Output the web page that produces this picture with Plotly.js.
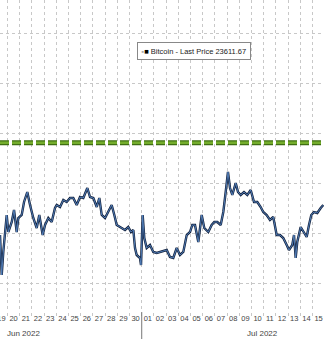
<!DOCTYPE html>
<html>
<head>
<meta charset="utf-8">
<script src="https://cdn.plot.ly/plotly-3.0.1.min.js"></script>
<style>html,body{margin:0;padding:0;background:#fff;}#chart{width:324px;height:339px;}</style>
</head>
<body>
<div id="chart"></div>
<script>
const times = [
"2022-06-19 09:12","2022-06-19 12:36","2022-06-19 15:42","2022-06-19 22:24",
"2022-06-20 01:36","2022-06-20 08:18","2022-06-20 12:48","2022-06-20 18:06","2022-06-20 21:12",
"2022-06-21 03:54","2022-06-21 08:30","2022-06-21 14:54","2022-06-21 20:18",
"2022-06-22 02:42","2022-06-22 09:24","2022-06-22 14:30","2022-06-22 21:12",
"2022-06-23 01:48","2022-06-23 08:18","2022-06-23 14:54","2022-06-23 21:24",
"2022-06-24 00:48","2022-06-24 07:18","2022-06-24 13:48","2022-06-24 20:24",
"2022-06-25 02:54","2022-06-25 09:24","2022-06-25 16:06","2022-06-25 22:36",
"2022-06-26 05:06","2022-06-26 13:00","2022-06-26 18:18",
"2022-06-27 00:48","2022-06-27 07:30","2022-06-27 12:36","2022-06-27 17:18","2022-06-27 23:48",
"2022-06-28 06:18","2022-06-28 12:54","2022-06-28 18:06","2022-06-28 22:48",
"2022-06-29 05:18","2022-06-29 15:06","2022-06-29 21:36",
"2022-06-30 02:54","2022-06-30 07:30","2022-06-30 10:48","2022-06-30 14:06","2022-06-30 20:36","2022-06-30 22:36",
"2022-07-01 01:54","2022-07-01 05:06","2022-07-01 09:48","2022-07-01 16:18","2022-07-01 22:48",
"2022-07-02 05:30","2022-07-02 12:00","2022-07-02 18:30",
"2022-07-03 01:12","2022-07-03 07:36","2022-07-03 14:06","2022-07-03 20:48",
"2022-07-04 03:18","2022-07-04 09:48","2022-07-04 16:30","2022-07-04 23:00",
"2022-07-05 03:30","2022-07-05 08:48","2022-07-05 15:18","2022-07-05 22:00",
"2022-07-06 03:06","2022-07-06 11:00","2022-07-06 17:36","2022-07-06 22:48",
"2022-07-07 04:42","2022-07-07 11:24","2022-07-07 16:30","2022-07-07 21:12",
"2022-07-08 01:42","2022-07-08 05:42","2022-07-08 10:12","2022-07-08 16:54","2022-07-08 21:24",
"2022-07-09 02:42","2022-07-09 09:12","2022-07-09 15:42","2022-07-09 22:24",
"2022-07-10 04:54","2022-07-10 11:24","2022-07-10 18:00","2022-07-10 23:06",
"2022-07-11 05:48","2022-07-11 12:18","2022-07-11 18:48",
"2022-07-12 01:30","2022-07-12 08:00","2022-07-12 14:30","2022-07-12 21:12",
"2022-07-13 01:42","2022-07-13 08:12","2022-07-13 11:36","2022-07-13 14:54","2022-07-13 18:00",
"2022-07-14 00:42","2022-07-14 07:12","2022-07-14 12:30","2022-07-14 17:06","2022-07-14 21:36",
"2022-07-15 02:54","2022-07-15 09:24","2022-07-15 16:06","2022-07-15 21:12"
];
const prices = [
19920,18320,19240,20720,
20040,20440,20920,20040,20600,
20720,21240,21640,21120,
20600,20200,20720,19920,
20320,20600,20440,21000,
21120,21040,21320,21240,
21400,21400,21120,21440,
21400,21800,21440,
21400,21040,21400,20720,20600,
20840,21120,20720,20320,
20240,20120,20240,
20040,20120,19400,19120,19000,18720,
20720,19800,19400,19520,19240,
19200,19240,19280,
19320,19040,19000,19400,
19120,19240,19920,20040,
20320,20320,19640,20720,
20200,20040,20320,20440,
20440,20320,20840,21640,
22440,21800,21520,22000,21640,
21520,21640,21520,21720,
21240,21240,21040,20840,
20720,20520,20640,
19920,19920,19800,19520,
19320,19520,19920,19000,19640,
20240,20040,19840,20320,20720,
20840,20800,21000,21120
];
const lastPrice = 23611.67;
const seriesName = "Bitcoin - Last Price";
const monthLabels = ["Jun 2022", "Jul 2022"];
const monthLabelPos = ["2022-06-21 08:24", "2022-07-10 21:12"];
const monthStart = "2022-07-01 00:00";
const xRange = ["2022-06-19 09:12", "2022-07-15 22:36"];
const yRange = [16840, 29320];

const traces = [
  {x: times, y: prices, type: "scatter", mode: "lines",
   line: {color: "#14233f", width: 2.4}, hoverinfo: "skip", showlegend: false},
  {x: times, y: prices, type: "scatter", mode: "lines",
   line: {color: "#5d8fcf", width: 0.8}, hoverinfo: "skip", showlegend: false},
  {x: xRange, y: [lastPrice, lastPrice], type: "scatter", mode: "lines",
   line: {color: "#3f6e12", width: 5, dash: "9px,3px"}, hoverinfo: "skip", showlegend: false},
  {x: xRange, y: [lastPrice, lastPrice], type: "scatter", mode: "lines",
   line: {color: "#74ad2c", width: 2.5, dash: "9px,3px"}, hoverinfo: "skip", showlegend: false}
];

const annotations = monthLabels.map((t, i) => ({
  x: monthLabelPos[i], y: 0, xref: "x", yref: "paper", yanchor: "top",
  yshift: -15, text: t, showarrow: false,
  font: {family: "Liberation Sans, Arial, sans-serif", size: 8, color: "#444"}
}));
annotations.push({
  x: 0.599, y: 0.835, xref: "paper", yref: "paper", xanchor: "center", yanchor: "middle",
  showarrow: false,
  text: '<span style="color:#aaaaaa">▪</span><span style="color:#000">■</span> ' + seriesName + ' ' + lastPrice.toFixed(2),
  font: {family: "Liberation Sans, Arial, sans-serif", size: 7.5, color: "#222"},
  bgcolor: "#ffffff", bordercolor: "#888888", borderwidth: 1, borderpad: 3.5
});

const layout = {
  width: 324, height: 339,
  margin: {l: 0, r: 0, t: 0, b: 27, pad: 0},
  paper_bgcolor: "#ffffff", plot_bgcolor: "#ffffff",
  showlegend: false,
  xaxis: {
    type: "date", range: xRange,
    tick0: "2022-06-19 12:00", dtick: 86400000, tickformat: "%d",
    ticklabelmode: "instant", ticklabeloverflow: "allow",
    showgrid: false, ticks: "", ticklabelstandoff: 0,
    tickfont: {family: "Liberation Sans, Arial, sans-serif", size: 7.5, color: "#444"},
    minor: {tick0: "2022-06-19", dtick: 86400000, showgrid: true,
            gridcolor: "#c8c8c8", griddash: "dot", gridwidth: 1,
            ticks: "outside", ticklen: 3, tickcolor: "#c8c8c8"},
    zeroline: false, showline: false, fixedrange: true
  },
  yaxis: {
    range: yRange, dtick: 2000, tick0: 0,
    showticklabels: false, showgrid: true,
    gridcolor: "#c8c8c8", griddash: "dot", gridwidth: 1,
    zeroline: false, showline: false, fixedrange: true
  },
  shapes: [{
    type: "line", xref: "x", yref: "paper",
    x0: monthStart, x1: monthStart, y0: -0.09, y1: 0,
    line: {color: "#777", width: 1}
  }],
  annotations: annotations
};

Plotly.newPlot("chart", traces, layout, {staticPlot: true, displayModeBar: false});
</script>
</body>
</html>
